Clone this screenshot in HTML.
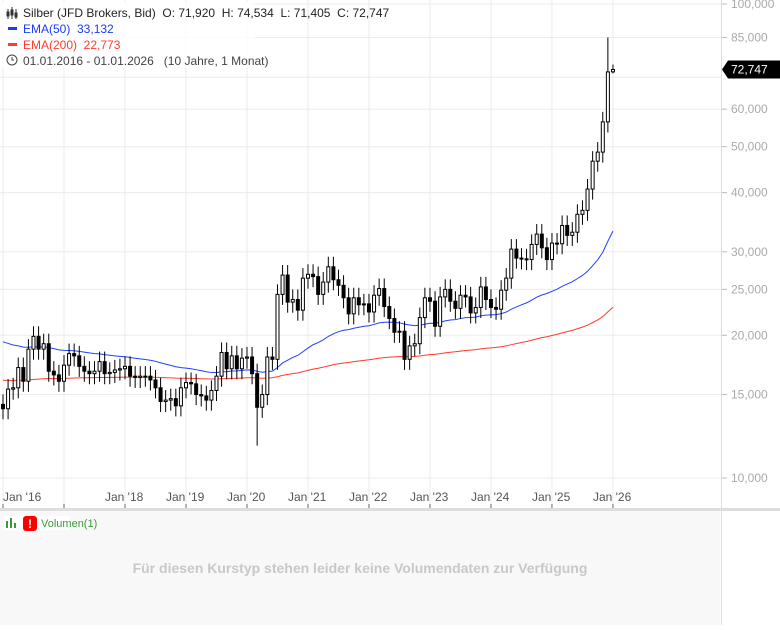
<!DOCTYPE html><html><head><meta charset="utf-8"><style>
body{margin:0;width:780px;height:625px;overflow:hidden;background:#fff;font-family:"Liberation Sans",sans-serif}
text{white-space:pre}
</style></head><body>
<svg id="s" width="780" height="625" xmlns="http://www.w3.org/2000/svg" font-family="Liberation Sans, sans-serif"></svg>
<script>
const C=[14.0,15.4,15.5,17.1,16.0,18.7,19.9,18.7,19.2,16.8,16.5,16.0,
17.3,18.3,18.1,17.2,16.8,16.6,16.8,17.6,16.6,16.7,16.9,17.0,
17.2,16.4,16.3,16.4,16.4,16.1,15.5,14.5,14.6,14.7,14.2,15.5,
15.9,15.8,15.0,14.9,14.6,15.3,16.4,18.4,17.0,18.1,17.0,17.9,
18.0,16.6,14.1,15.0,18.0,17.8,24.4,26.8,23.5,23.8,22.6,26.4,
26.9,26.6,24.4,25.9,27.9,26.2,25.5,24.0,22.2,24.0,23.2,23.3,
22.4,24.3,25.1,23.0,21.7,20.3,20.4,17.8,19.0,19.2,21.8,24.0,
23.6,20.9,24.1,25.0,23.6,22.8,24.3,24.1,22.3,22.9,25.3,23.8,
22.9,22.7,24.9,26.4,30.4,29.1,29.0,28.9,31.1,32.7,30.6,28.9,
31.3,31.2,34.1,32.5,33.0,36.0,36.7,40.7,46.6,48.7,56.4,71.9,72.747];
const Y=v=>478-474*Math.log10(v*1000/10000);
const X=i=>3+i*5.083;
let h='';
h+='<rect x="0" y="510" width="720" height="115" fill="#f8f8f8"/>';
[100,85,70,60,50,40,30,25,20,15,10].forEach(v=>{const y=Y(v);h+=`<line x1="0" x2="722" y1="${y}" y2="${y}" stroke="#ebebeb"/>`;
 if(v!=70)h+=`<line x1="722" x2="727" y1="${y}" y2="${y}" stroke="#bbb"/><text x="731" y="${y+4}" font-size="12" fill="#aaa">${v==100?'100':v},000</text>`;});
for(let k=0;k<=10;k++){const x=X(k*12);h+=`<line x1="${x}" x2="${x}" y1="0" y2="508" stroke="#ebebeb"/><line x1="${x}" x2="${x}" y1="504" y2="508" stroke="#666"/>`;
 if(k!=1)h+=`<text x="${k==0?3:x-20}" y="501" font-size="12" fill="#555">Jan '${16+k}</text>`;}
h+='<line x1="721.5" x2="721.5" y1="0" y2="625" stroke="#ddd"/>';
h+='<rect x="0" y="508" width="780" height="3" fill="#ddd"/>';
let e50=19.6,e200=16.1,p50=[],p200=[];
C.forEach((c,i)=>{e50+=(c-e50)*2/51;e200+=(c-e200)*2/201*1.02;p50.push(X(i)+','+Y(e50));p200.push(X(i)+','+Y(e200));});
h+=`<polyline points="${p200.join(' ')}" fill="none" stroke="#ff3b30" stroke-width="1"/>`;
h+=`<polyline points="${p50.join(' ')}" fill="none" stroke="#2040ff" stroke-width="1"/>`;
let o=14.3;
C.forEach((c,i)=>{let hi=Math.max(o,c)*1.05,lo=Math.min(o,c)*0.95;
 if(i==50)lo=11.7; if(i==119)hi=85; if(i==120){o=71.92;hi=74.53;lo=71.4;}
 const x=X(i);h+=`<line x1="${x}" x2="${x}" y1="${Y(hi)}" y2="${Y(lo)}" stroke="#000"/>`;
 const t=Y(Math.max(o,c)),b=Y(Math.min(o,c));
 h+=`<rect x="${x-1.5}" y="${t}" width="3" height="${Math.max(b-t,1)}" fill="${c>=o?'#fff':'#000'}" stroke="#000" stroke-width="1"/>`;o=c;});
const py=Y(72.747);
h+=`<polygon points="722,${py} 728,${py-9} 780,${py-9} 780,${py+9} 728,${py+9}" fill="#000"/><text x="731" y="${py+4}" font-size="12" fill="#fff">72,747</text>`;
h+=`<rect x="0" y="2" width="255" height="66" fill="#fff" opacity="0.8"/>
<g stroke="#333" fill="none"><line x1="8" y1="9" x2="8" y2="19"/><line x1="12" y1="7" x2="12" y2="19"/><line x1="16" y1="9" x2="16" y2="19"/><rect x="7" y="12" width="2" height="4"/><rect x="11" y="10" width="2" height="5"/><rect x="15" y="13" width="2" height="4"/></g>
<text x="23" y="17" font-size="12" fill="#222">Silber (JFD Brokers, Bid)  O: 71,920  H: 74,534  L: 71,405  C: 72,747</text>
<rect x="8" y="27" width="9" height="3" fill="#1a3cff"/><text x="23" y="33" font-size="12" fill="#1a3cff">EMA(50)  33,132</text>
<rect x="8" y="43" width="9" height="3" fill="#ff3b30"/><text x="23" y="49" font-size="12" fill="#ff3b30">EMA(200)  22,773</text>
<circle cx="12" cy="60" r="5" fill="none" stroke="#444"/><path d="M12 57v3h2" stroke="#444" fill="none"/>
<text x="23" y="65" font-size="12" fill="#444">01.01.2016 - 01.01.2026   (10 Jahre, 1 Monat)</text>`;
h+=`<rect x="4" y="516" width="66" height="14" fill="#fff"/><rect x="6" y="521" width="2" height="7" fill="#3a9a3a"/><rect x="10" y="518" width="2" height="10" fill="#3a9a3a"/><rect x="14" y="523" width="2" height="5" fill="#3a9a3a"/>
<rect x="23" y="516" width="14" height="15" rx="3" fill="#f00"/><text x="30" y="528" font-size="12" font-weight="bold" fill="#fff" text-anchor="middle">!</text>
<text x="41" y="527" font-size="11" fill="#3a9a3a">Volumen(1)</text>
<text x="360" y="573" font-size="14" font-weight="bold" fill="#c8c8c8" text-anchor="middle">Für diesen Kurstyp stehen leider keine Volumendaten zur Verfügung</text>`;
document.getElementById('s').innerHTML=h;
</script></body></html>
